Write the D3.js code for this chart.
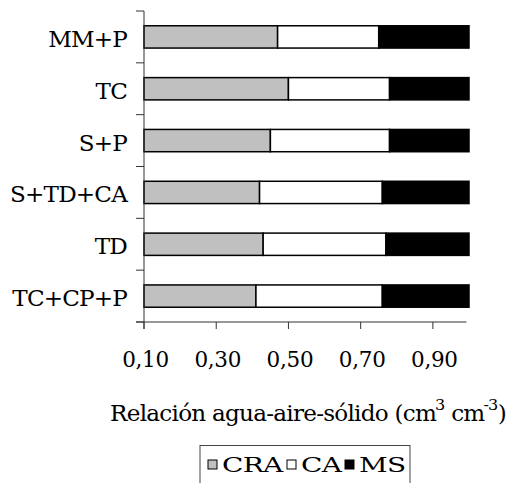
<!DOCTYPE html>
<html>
<head>
<meta charset="utf-8">
<script src="https://cdn.jsdelivr.net/npm/d3@7"></script>
<style>
  body { margin: 0; background: #fff; }
</style>
</head>
<body>
<svg width="507" height="483"></svg>
<script>
const categories = ["MM+P", "TC", "S+P", "S+TD+CA", "TD", "TC+CP+P"];
const cra = [0.47, 0.50, 0.45, 0.42, 0.43, 0.41];
const ca = [0.28, 0.28, 0.33, 0.34, 0.34, 0.35];
const ms = [0.25, 0.22, 0.22, 0.24, 0.23, 0.24];
const seriesNames = ["CRA", "CA", "MS"];
const seriesColors = ["#c0c0c0", "#ffffff", "#000000"];
const xTicks = [0.1, 0.3, 0.5, 0.7, 0.9];

// only DejaVu Serif resolves as a serif face here
const svg = d3.select("svg").attr("font-family", "DejaVu Serif");
const plotLeft = 144, plotRight = 469, plotTop = 11, plotBottom = 322;

const rows = categories.map(function (c, i) {
    return { cat: c, CRA: cra[i], CA: ca[i], MS: ms[i] };
});

var xScale = d3.scaleLinear()
    .domain([0.1, 1.0])
    .range([plotLeft, plotRight]);

var yScale = d3.scaleBand()
    .domain(categories)
    .range([plotTop, plotBottom])
    .paddingInner(0.57)
    .paddingOuter(0.285);

const stacked = d3.stack().keys(seriesNames)(rows);

// bars
svg.append("g")
    .selectAll("g")
    .data(stacked)
    .enter()
    .append("g")
    .attr("fill", function (d, i) { return seriesColors[i]; })
    .selectAll("rect")
    .data(function (d) { return d; })
    .enter()
    .append("rect")
    .attr("x", function (d) { return xScale(Math.max(d[0], 0.1)); })
    .attr("width", function (d) { return xScale(d[1]) - xScale(Math.max(d[0], 0.1)); })
    .attr("y", function (d) { return yScale(d.data.cat); })
    .attr("height", yScale.bandwidth())
    .attr("stroke", "#000")
    .attr("stroke-width", 1.5);

// y axis line + ticks between categories
const step = yScale.step();
const yAxisG = svg.append("g").attr("stroke", "#333").attr("stroke-width", 1);
yAxisG.append("line")
    .attr("x1", plotLeft).attr("x2", plotLeft)
    .attr("y1", plotTop).attr("y2", plotBottom + 7);
yAxisG.selectAll(".sep")
    .data(d3.range(categories.length + 1))
    .enter()
    .append("line")
    .attr("x1", plotLeft - 8).attr("x2", plotLeft)
    .attr("y1", function (i) { return plotTop + i * step; })
    .attr("y2", function (i) { return plotTop + i * step; });

// category labels
svg.append("g")
    .selectAll("text")
    .data(categories)
    .enter()
    .append("text")
    .attr("transform", function (d) {
        return "translate(127," + (yScale(d) + yScale.bandwidth() / 2 + 10) + ") scale(1.05,1)";
    })
    .attr("text-anchor", "end")
    .attr("font-size", 22)
    .attr("letter-spacing", -0.8)
    .text(function (d) { return d; });

// x axis
const xAxisG = svg.append("g").attr("stroke", "#333").attr("stroke-width", 1);
xAxisG.append("line")
    .attr("x1", plotLeft - 8).attr("x2", xScale(0.993))
    .attr("y1", plotBottom).attr("y2", plotBottom);
xAxisG.selectAll(".tick")
    .data(xTicks)
    .enter()
    .append("line")
    .attr("x1", function (d) { return xScale(d); })
    .attr("x2", function (d) { return xScale(d); })
    .attr("y1", plotBottom).attr("y2", plotBottom + 7);

svg.append("g")
    .selectAll("text")
    .data(xTicks)
    .enter()
    .append("text")
    .attr("transform", function (d) {
        return "translate(" + (xScale(d) + 1.5) + ",367)";
    })
    .attr("text-anchor", "middle")
    .attr("font-size", 21.5)
    .attr("letter-spacing", -0.3)
    .text(function (d) { return d3.format(".2f")(d).replace(".", ","); });

// axis title
const title = svg.append("text")
    .attr("transform", "translate(" + ((plotLeft + plotRight) / 2 + 1.5) + ",421) scale(1.075,1)")
    .attr("text-anchor", "middle")
    .attr("font-size", 21.5)
    .attr("letter-spacing", -0.7);
title.append("tspan").text("Relación agua-aire-sólido (cm");
title.append("tspan").attr("font-size", 15).attr("dy", -11).attr("dx", -1).text("3");
title.append("tspan").attr("dy", 11).text(" cm");
title.append("tspan").attr("font-size", 15).attr("dy", -11).attr("dx", -1).text("-3");
title.append("tspan").attr("dy", 11).text(")");

// legend
const legend = svg.append("g");
legend.append("rect")
    .attr("x", 200).attr("y", 445.5)
    .attr("width", 210).attr("height", 60)
    .attr("fill", "none")
    .attr("stroke", "#444")
    .attr("stroke-width", 1);
const legendX = [208, 287, 345];
const items = legend.selectAll(".item")
    .data(seriesNames)
    .enter()
    .append("g")
    .attr("transform", function (d, i) { return "translate(" + legendX[i] + ",460)"; });
items.append("rect")
    .attr("width", 9).attr("height", 9)
    .attr("fill", function (d, i) { return seriesColors[i]; })
    .attr("stroke", "#000")
    .attr("stroke-width", 1);
items.append("text")
    .attr("transform", "translate(14,11.7) scale(1.4,1)")
    .attr("font-size", 20)
    .attr("letter-spacing", -0.5)
    .text(function (d) { return d; });
</script>
</body>
</html>
